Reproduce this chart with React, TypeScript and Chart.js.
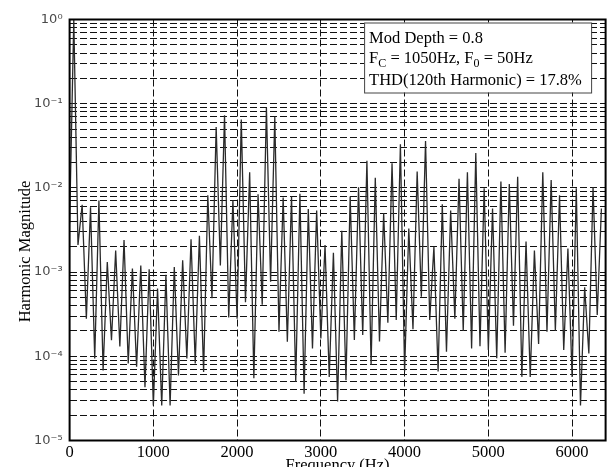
import React, { useEffect, useRef } from 'react';
import { Chart, registerables } from 'chart.js';

Chart.register(...registerables);

// Harmonic spacing (fundamental) and the magnitude of harmonic n = 0, 1, 2, ... (spectrum)
const F0_HZ = 50;
const harmonicMagnitudes: number[] = [
  0.0038, 1.0, 0.0021, 0.0063, 0.00028, 0.0059, 0.000094, 0.0071, 0.000068, 0.00132,
  0.000155, 0.0018, 0.000131, 0.0024, 0.000082, 0.0011, 0.000075, 0.0012, 0.000043, 0.00108,
  0.000026, 0.00064, 0.000026, 0.00093, 0.000026, 0.00115, 0.000059, 0.00138, 0.000094, 0.00245,
  0.000082, 0.0027, 0.000065, 0.0082, 0.00049, 0.053, 0.0012, 0.073, 0.00029, 0.0071,
  0.00028, 0.065, 0.00044, 0.0153, 0.000055, 0.0084, 0.00041, 0.09, 0.00077, 0.07,
  0.000196, 0.0077, 0.000149, 0.0079, 0.00005, 0.0085, 0.000036, 0.0056, 0.000124, 0.0054,
  0.000163, 0.0021, 0.000057, 0.0017, 0.000029, 0.0031, 0.000052, 0.0079, 0.000156, 0.0102,
  0.000179, 0.021, 0.000079, 0.0132, 0.00015, 0.005, 0.00025, 0.0196, 0.00027, 0.033,
  0.000066, 0.0033, 0.00021, 0.0156, 0.00051, 0.036, 0.00027, 0.002, 0.000066, 0.0064,
  0.000113, 0.0054, 0.00028, 0.0128, 0.0002, 0.0153, 0.000124, 0.026, 0.000132, 0.0099,
  0.000119, 0.0057, 0.000095, 0.0119, 0.00011, 0.0111, 0.00023, 0.0136, 0.000057, 0.0023,
  0.000057, 0.0018, 0.00014, 0.0153, 0.000196, 0.0124, 0.0002, 0.0082, 0.000119, 0.0019,
  0.000057, 0.0099, 0.000026, 0.00066, 0.000108, 0.0102, 0.00031, 0.0057,
];

const xTickValues = [0, 1000, 2000, 3000, 4000, 5000, 6000];
const xMin = 0;
const xMax = 6400;
const yDecadeExponents = [-5, -4, -3, -2, -1, 0];
const yMinorMantissas = [1, 2, 3, 4, 5, 6, 7, 8, 9];

const xAxisTitle = 'Frequency (Hz)';
const yAxisTitle = 'Harmonic Magnitude';
// annotation lines; segments flagged sub are drawn as subscripts
const annotationLines: { t: string; sub?: boolean }[][] = [
  [{ t: 'Mod Depth = 0.8' }],
  [{ t: 'F' }, { t: 'C', sub: true }, { t: ' = 1050Hz, F' }, { t: '0', sub: true }, { t: ' = 50Hz' }],
  [{ t: 'THD(120th Harmonic) = 17.8%' }],
];

const SUP: Record<string, string> = {
  '0': '\u2070', '1': '\u00B9', '2': '\u00B2', '3': '\u00B3', '4': '\u2074',
  '5': '\u2075', '6': '\u2076', '7': '\u2077', '8': '\u2078', '9': '\u2079', '-': '\u207B',
};
const toSup = (s: string) => s.split('').map((c) => SUP[c] ?? c).join('');

const SERIF = '"Liberation Serif", "Times New Roman", serif';

const overlayPlugin = {
  id: 'overlay',
  afterDraw(chart: any) {
    const { ctx, chartArea: a } = chart;
    ctx.save();
    ctx.setLineDash([]);

    // annotation box
    const boxW = 227;
    const boxH = 70;
    const boxX = a.right - 14.5 - boxW;
    const boxY = a.top + 3;
    ctx.fillStyle = '#fff';
    ctx.fillRect(boxX, boxY, boxW, boxH);
    ctx.strokeStyle = '#444';
    ctx.lineWidth = 1;
    ctx.strokeRect(boxX + 0.5, boxY + 0.5, boxW, boxH);

    ctx.fillStyle = '#000';
    ctx.textAlign = 'left';
    ctx.textBaseline = 'alphabetic';
    const baselines = [boxY + 20, boxY + 40, boxY + 62];
    annotationLines.forEach((segs, i) => {
      let x = boxX + 5;
      segs.forEach((s) => {
        ctx.font = s.sub ? `12px ${SERIF}` : `16.5px ${SERIF}`;
        ctx.fillText(s.t, x, baselines[i] + (s.sub ? 4 : 0));
        x += ctx.measureText(s.t).width;
      });
    });

    // axis titles
    ctx.font = `16.5px ${SERIF}`;
    ctx.textAlign = 'center';
    ctx.fillText(xAxisTitle, (a.left + a.right) / 2, a.bottom + 29.5);
    ctx.save();
    ctx.translate(26, a.top + 232);
    ctx.rotate(-Math.PI / 2);
    ctx.textBaseline = 'middle';
    ctx.fillText(yAxisTitle, 0, 0);
    ctx.restore();

    // frame
    ctx.strokeStyle = '#000';
    ctx.lineWidth = 2;
    ctx.strokeRect(a.left, a.top, a.right - a.left, a.bottom - a.top);
    ctx.restore();
  },
};

export default function App() {
  const canvasRef = useRef<HTMLCanvasElement | null>(null);

  useEffect(() => {
    const canvas = canvasRef.current;
    if (!canvas) return;
    const points = harmonicMagnitudes.map((v, n) => ({ x: n * F0_HZ, y: v }));
    const yTicks: number[] = [];
    yDecadeExponents.forEach((e) => {
      if (e === 0) {
        yTicks.push(1);
        return;
      }
      yMinorMantissas.forEach((m) => yTicks.push(Number((m * Math.pow(10, e)).toPrecision(3))));
    });

    const chart = new Chart(canvas, {
      type: 'line',
      data: {
        datasets: [
          {
            data: points,
            borderColor: '#2a2a2a',
            borderWidth: 1.3,
            pointRadius: 0,
            tension: 0,
            fill: false,
          },
        ],
      },
      options: {
        animation: false,
        responsive: false,
        events: [],
        layout: { padding: { top: 19.5, right: 5.4, left: 0, bottom: 0 } },
        plugins: { legend: { display: false }, tooltip: { enabled: false }, title: { display: false } },
        scales: {
          x: {
            type: 'linear',
            min: xMin,
            max: xMax,
            afterBuildTicks: (s: any) => {
              s.ticks = xTickValues.map((v) => ({ value: v }));
            },
            afterFit: (s: any) => {
              s.height = 26.5;
            },
            grid: { color: '#111', lineWidth: 1, drawTicks: false },
            border: { display: false, dash: [7, 3] },
            ticks: {
              autoSkip: false,
              maxRotation: 0,
              padding: 2,
              color: '#000',
              font: { family: SERIF, size: 16.5 },
              callback: (v: any) => String(v),
            },
          },
          y: {
            type: 'logarithmic',
            min: Math.pow(10, yDecadeExponents[0]),
            max: Math.pow(10, yDecadeExponents[yDecadeExponents.length - 1]),
            afterBuildTicks: (s: any) => {
              s.ticks = yTicks.map((v) => ({ value: v, major: false }));
            },
            afterFit: (s: any) => {
              s.width = 69.6;
            },
            grid: { color: '#111', lineWidth: 1, drawTicks: false },
            border: { display: false, dash: [7, 3] },
            ticks: {
              autoSkip: false,
              padding: 7,
              color: '#4a4a4a',
              font: { family: '"DejaVu Sans", sans-serif', size: 13 },
              callback: (v: any) => {
                const e = Math.log10(Number(v));
                if (Math.abs(e - Math.round(e)) > 1e-6) return '';
                return '10' + toSup(String(Math.round(e)));
              },
            },
          },
        },
      },
      plugins: [overlayPlugin],
    } as any);

    return () => chart.destroy();
  }, []);

  return (
    <div style={{ position: 'fixed', left: 0, top: 0, width: 611, height: 467, background: '#fff' }}>
      <canvas ref={canvasRef} width={611} height={467} style={{ display: 'block' }} />
    </div>
  );
}
